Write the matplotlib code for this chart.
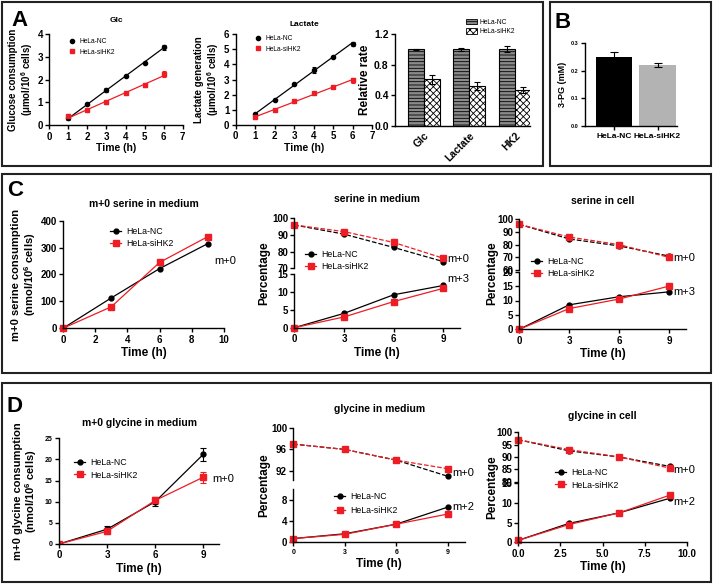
import numpy as np
import matplotlib
matplotlib.use('Agg')
import matplotlib.pyplot as plt
from matplotlib.lines import Line2D
from matplotlib.patches import Rectangle, Patch

W, H = 713, 584
plt.rcParams['font.family'] = ['Liberation Sans', 'DejaVu Sans']
plt.rcParams['font.weight'] = 'bold'
plt.rcParams['mathtext.fontset'] = 'custom'
plt.rcParams['mathtext.rm'] = 'Liberation Sans'
plt.rcParams['mathtext.bf'] = 'Liberation Sans:bold'
plt.rcParams['axes.linewidth'] = 1.0
plt.rcParams['xtick.major.width'] = 1.0
plt.rcParams['ytick.major.width'] = 1.0
plt.rcParams['xtick.major.size'] = 3
plt.rcParams['ytick.major.size'] = 3
plt.rcParams['xtick.major.pad'] = 1.5
plt.rcParams['ytick.major.pad'] = 1.5
plt.rcParams['hatch.linewidth'] = 0.6

RED = '#ee1c24'
BLK = 'black'

# ---------------- data ----------------
glc_time = [1, 2, 3, 4, 5, 6]
glc_nc = [0.30, 0.92, 1.55, 2.17, 2.73, 3.42]
glc_nc_err = [0.05, 0.04, 0.10, 0.04, 0.04, 0.10]
glc_si = [0.40, 0.65, 1.00, 1.42, 1.75, 2.25]
glc_si_err = [0.10, 0.04, 0.05, 0.06, 0.08, 0.15]
lac_nc = [0.70, 1.62, 2.70, 3.65, 4.50, 5.35]
lac_nc_err = [0.08, 0.05, 0.06, 0.20, 0.06, 0.15]
lac_si = [0.50, 1.02, 1.55, 2.08, 2.50, 2.95]
lac_si_err = [0.06, 0.04, 0.05, 0.05, 0.06, 0.15]

rate_cats = ['Glc', 'Lactate', 'HK2']
rate_nc = [1.0, 1.0, 1.0]
rate_nc_err = [0.01, 0.02, 0.04]
rate_si = [0.61, 0.52, 0.47]
rate_si_err = [0.06, 0.05, 0.04]

groups = ['HeLa-NC', 'HeLa-siHK2']
pg_vals = [0.250, 0.222]
pg_err = [0.017, 0.007]

t9 = [0, 3, 6, 9]
ser_cons_nc = [0, 113, 222, 315]
ser_cons_si = [0, 80, 245, 341]
sm_m0_nc = [96, 90.5, 82.5, 74]
sm_m0_si = [96, 92, 85.5, 76]
sm_m3_nc = [0, 4, 9.2, 11.8]
sm_m3_si = [0, 3, 7.3, 11]
sc_m0_nc = [96, 84.5, 79, 71]
sc_m0_si = [96, 86, 80, 70]
sc_m3_nc = [0, 8.5, 11.3, 13]
sc_m3_si = [0, 7.2, 10.5, 15]

gly_cons_nc = [0, 3.5, 10, 21.2]
gly_cons_nc_err = [0, 0.7, 1.0, 1.5]
gly_cons_si = [0, 3.0, 10.3, 15.8]
gly_cons_si_err = [0, 0.7, 0.9, 1.3]
gm_m0_nc = [97, 96, 94, 91]
gm_m0_si = [97, 96, 94, 92.4]
gm_m2_nc = [0.7, 1.6, 3.4, 6.6]
gm_m2_si = [0.7, 1.5, 3.4, 5.3]
gc_m0_nc = [97, 92.5, 90, 86.2]
gc_m0_si = [97, 93, 90, 85.5]
gc_m2_nc = [0.5, 4.8, 7.5, 11.2]
gc_m2_si = [0.5, 4.5, 7.5, 12]

fig = plt.figure(figsize=(W / 100, H / 100), dpi=100)


def fx(x):
    return x / W


def fy(y):
    return 1 - y / H


def add_ax(x0, x1, y0, y1):
    return fig.add_axes([x0 / W, 1 - y1 / H, (x1 - x0) / W, (y1 - y0) / H])


def style(ax, fs=6, bottom=True):
    ax.spines['top'].set_visible(False)
    ax.spines['right'].set_visible(False)
    if not bottom:
        ax.spines['bottom'].set_visible(False)
        ax.tick_params(axis='x', bottom=False, labelbottom=False)
    ax.tick_params(labelsize=fs, direction='out')
    ax.patch.set_alpha(0)


def ftext(x, y, s, **kw):
    fig.text(fx(x), fy(y), s, **kw)


def legend_at(x, y, handles, labels, fs=5.5, hl=1.6, sp=0.35):
    fig.legend(handles, labels, loc='upper left', bbox_to_anchor=(fx(x), fy(y)),
               bbox_transform=fig.transFigure, frameon=False,
               handlelength=hl, handletextpad=0.6, labelspacing=sp,
               borderpad=0, borderaxespad=0, prop={'weight': 'normal', 'size': fs})


# ---------------- borders ----------------
for (x0, y0, x1, y1) in [(2, 2, 542.7, 165.7), (550, 2, 711, 165.7),
                         (2, 174, 711, 372.7), (2, 382.7, 711, 582)]:
    fig.patches.append(Rectangle((fx(x0), fy(y1)), (x1 - x0) / W, (y1 - y0) / H,
                                 transform=fig.transFigure, fill=False, lw=1.5,
                                 edgecolor='#222222'))

# panel letters
for (x, y, s) in [(11, 26, 'A'), (555, 28, 'B'), (7, 196, 'C'), (7, 412, 'D')]:
    ftext(x, y, s, fontsize=16, fontweight='bold', va='baseline')

# ---------------- A1 / A2 ----------------
def time_panel(ax, yv, yerr, yv2, yerr2, ylim, yticks, ylabel):
    for vals, err, c, m, ms in [(yv, yerr, BLK, 'o', 3), (yv2, yerr2, RED, 's', 3.5)]:
        ax.errorbar(glc_time, vals, yerr=err, fmt=m, color=c, ms=ms, capsize=1.5,
                    elinewidth=0.8, capthick=0.8)
        p = np.polyfit(glc_time, vals, 1)
        xs = np.array([glc_time[0], glc_time[-1]])
        ax.plot(xs, np.polyval(p, xs), color=c, lw=0.9)
    ax.set_xlim(0, 7)
    ax.set_xticks(range(8))
    ax.set_ylim(*ylim)
    ax.set_yticks(yticks)
    style(ax, fs=7)
    ax.set_xlabel('Time (h)', fontsize=7.5, fontweight='bold', labelpad=1)
    ax.set_ylabel(ylabel, fontsize=7, fontweight='bold', labelpad=2, linespacing=1.1)


axA1 = add_ax(49.3, 182.7, 34, 125.3)
time_panel(axA1, glc_nc, glc_nc_err, glc_si, glc_si_err, (0, 4), range(5),
           'Glucose consumption\n(μmol/10$^{\\mathbf{6}}$ cells)')
ftext(116, 21, 'Glc', fontsize=6, fontweight='bold', ha='center', va='center')
legend_at(69, 38, [Line2D([], [], ls='', marker='o', color=BLK, ms=3),
                   Line2D([], [], ls='', marker='s', color=RED, ms=3.5)],
          groups, fs=4.8, hl=1.0, sp=0.55)

axA2 = add_ax(235.7, 372, 34, 125)
time_panel(axA2, lac_nc, lac_nc_err, lac_si, lac_si_err, (0, 6), range(7),
           'Lactate generation\n(μmol/10$^{\\mathbf{6}}$ cells)')
ftext(304, 24, 'Lactate', fontsize=6, fontweight='bold', ha='center', va='center')
legend_at(255, 35, [Line2D([], [], ls='', marker='o', color=BLK, ms=3),
                    Line2D([], [], ls='', marker='s', color=RED, ms=3.5)],
          groups, fs=4.8, hl=1.0, sp=0.55)

# ---------------- A3 bars ----------------
axA3 = add_ax(395, 530, 34, 126)
xc = np.arange(len(rate_cats))
bw = 0.35
axA3.bar(xc - bw / 2, rate_nc, bw, yerr=rate_nc_err, color='#8a8a8a', edgecolor=BLK,
         hatch='-----', lw=0.8, capsize=2, error_kw={'elinewidth': 0.8, 'capthick': 0.8})
axA3.bar(xc + bw / 2, rate_si, bw, yerr=rate_si_err, color='white', edgecolor=BLK,
         hatch='xxxxx', lw=0.8, capsize=2, error_kw={'elinewidth': 0.8, 'capthick': 0.8})
axA3.set_xlim(-0.63, 2.33)
axA3.set_ylim(0, 1.2)
axA3.set_yticks([0, 0.4, 0.8, 1.2])
axA3.set_yticklabels(['0.0', '0.4', '0.8', '1.2'])
axA3.set_xticks(xc)
axA3.set_xticklabels(rate_cats, rotation=45, ha='right', rotation_mode='anchor')
style(axA3, fs=7.5)
axA3.tick_params(axis='x', length=0, pad=3)
axA3.set_ylabel('Relative rate', fontsize=8.5, fontweight='bold', labelpad=2)
fig.legend([Patch(facecolor='#8a8a8a', edgecolor=BLK, hatch='-----', lw=0.6),
            Patch(facecolor='white', edgecolor=BLK, hatch='xxxxx', lw=0.6)], groups,
           loc='upper left', bbox_to_anchor=(fx(466), fy(19)), bbox_transform=fig.transFigure,
           frameon=False, handlelength=1.6, handleheight=0.8, handletextpad=0.5,
           labelspacing=0.35, borderpad=0, borderaxespad=0,
           prop={'weight': 'normal', 'size': 4.8})

# ---------------- B ----------------
axB = add_ax(585, 677, 43, 126)
axB.bar([0, 1], pg_vals, 0.83, yerr=pg_err, color=[BLK, '#b3b3b3'], capsize=3,
        error_kw={'elinewidth': 0.8, 'capthick': 0.8})
axB.set_xlim(-0.667, 1.448)
axB.set_ylim(0, 0.3)
axB.set_yticks([0, 0.1, 0.2, 0.3])
axB.set_yticklabels(['0.0', '0.1', '0.2', '0.3'])
axB.set_xticks([0, 1])
axB.set_xticklabels(groups)
style(axB, fs=4)
axB.tick_params(axis='x', labelsize=6, pad=2)
axB.set_ylabel('3-PG (mM)', fontsize=6.5, fontweight='bold', labelpad=3)

# ---------------- line helpers ----------------
def two_lines(ax, x, a, b, dashed=False, err=None):
    ls = '--' if dashed else '-'
    if err is None:
        ax.plot(x, a, ls=ls, marker='o', color=BLK, ms=3.5, lw=0.9)
        ax.plot(x, b, ls=ls, marker='s', color=RED, ms=4, lw=0.9)
    else:
        ax.errorbar(x, a, yerr=err[0], ls=ls, marker='o', color=BLK, ms=3.5, lw=0.9,
                    capsize=2, elinewidth=0.8, capthick=0.8)
        ax.errorbar(x, b, yerr=err[1], ls=ls, marker='s', color=RED, ms=4, lw=0.9,
                    capsize=2, elinewidth=0.8, capthick=0.8)


line_handles = [Line2D([], [], marker='o', color=BLK, ms=3.5, lw=0.9),
                Line2D([], [], marker='s', color=RED, ms=4, lw=0.9)]

TITLE_FS = 7.5
MTXT_FS = 8
LEG_FS = 6.3


def broken_panel(x0, x1, top_px, bot_px, toplim, topticks, botlim, botticks,
                 top_a, top_b, bot_a, bot_b, xticks, xticklabels, title, title_y,
                 xtick_fs=7):
    axT = add_ax(x0, x1, top_px[0], top_px[1])
    axBt = add_ax(x0, x1, bot_px[0], bot_px[1])
    two_lines(axT, t9, top_a, top_b, dashed=True)
    two_lines(axBt, t9, bot_a, bot_b)
    for a in (axT, axBt):
        a.set_xlim(0, 10)
        a.set_xticks(xticks)
    axT.set_ylim(*toplim)
    axT.set_yticks(topticks)
    axBt.set_ylim(*botlim)
    axBt.set_yticks(botticks)
    axBt.set_xticklabels(xticklabels)
    style(axT, fs=7, bottom=False)
    style(axBt, fs=7)
    axBt.tick_params(axis='x', labelsize=xtick_fs)
    axBt.set_xlabel('Time (h)', fontsize=8.5, fontweight='bold', labelpad=2)
    for a in (axT, axBt):
        for l in a.lines:
            l.set_clip_on(False)
    ftext((x0 + x1) / 2, title_y, title, fontsize=TITLE_FS, fontweight='bold',
          ha='center', va='center')
    return axT, axBt


# ---------------- C1 ----------------
axC1 = add_ax(63, 224, 220.7, 328.3)
two_lines(axC1, t9, ser_cons_nc, ser_cons_si)
axC1.set_xlim(0, 10)
axC1.set_xticks([0, 2, 4, 6, 8, 10])
axC1.set_ylim(0, 400)
axC1.set_yticks([0, 100, 200, 300, 400])
style(axC1, fs=7)
for l in axC1.lines:
    l.set_clip_on(False)
axC1.set_xlabel('Time (h)', fontsize=8.5, fontweight='bold', labelpad=2)
axC1.set_ylabel('m+0 serine consumption\n(nmol/10$^{\\mathbf{6}}$ cells)', fontsize=8,
                fontweight='bold', labelpad=2, linespacing=1.05)
ftext(143.5, 204, 'm+0 serine in medium', fontsize=TITLE_FS, fontweight='bold',
      ha='center', va='center')
legend_at(110, 227, line_handles, groups, fs=LEG_FS, hl=1.3, sp=0.3)
ftext(214, 261, 'm+0', fontsize=MTXT_FS, fontweight='normal', va='center')

# ---------------- C2 ----------------
broken_panel(294.3, 460, (218.3, 268.3), (274, 327.7), (70, 100), [70, 80, 90, 100],
             (0, 15), [0, 5, 10, 15], sm_m0_nc, sm_m0_si, sm_m3_nc, sm_m3_si,
             [0, 3, 6, 9], ['0', '3', '6', '9'], 'serine in medium', 199)
ftext(264, 273, 'Percentage', fontsize=8.5, fontweight='bold', rotation=90, ha='center',
      va='center')
legend_at(305, 250, line_handles, groups, fs=LEG_FS, hl=1.3, sp=0.3)
ftext(447, 259, 'm+0', fontsize=MTXT_FS, fontweight='normal', va='center')
ftext(447, 279, 'm+3', fontsize=MTXT_FS, fontweight='normal', va='center')

# ---------------- C3 ----------------
broken_panel(519.3, 685.6, (219.3, 270), (271.7, 329.3), (60, 100), [60, 70, 80, 90, 100],
             (0, 20), [0, 5, 10, 15, 20], sc_m0_nc, sc_m0_si, sc_m3_nc, sc_m3_si,
             [0, 3, 6, 9], ['0', '3', '6', '9'], 'serine in cell', 201)
ftext(492, 273, 'Percentage', fontsize=8.5, fontweight='bold', rotation=90, ha='center',
      va='center')
legend_at(531, 257, line_handles, groups, fs=LEG_FS, hl=1.3, sp=0.3)
ftext(673, 258, 'm+0', fontsize=MTXT_FS, fontweight='normal', va='center')
ftext(673, 292, 'm+3', fontsize=MTXT_FS, fontweight='normal', va='center')

# ---------------- D1 ----------------
axD1 = add_ax(59, 219.3, 438.3, 544)
two_lines(axD1, t9, gly_cons_nc, gly_cons_si, err=(gly_cons_nc_err, gly_cons_si_err))
axD1.set_xlim(0, 10)
axD1.set_xticks([0, 3, 6, 9])
axD1.set_ylim(0, 25)
axD1.set_yticks([0, 5, 10, 15, 20, 25])
style(axD1, fs=5)
axD1.tick_params(axis='x', labelsize=7)
axD1.set_xlabel('Time (h)', fontsize=8.5, fontweight='bold', labelpad=2)
axD1.set_ylabel('m+0 glycine consumption\n(nmol/10$^{\\mathbf{6}}$ cells)', fontsize=8,
                fontweight='bold', labelpad=4, linespacing=1.05)
ftext(139, 423, 'm+0 glycine in medium', fontsize=TITLE_FS, fontweight='bold',
      ha='center', va='center')
legend_at(74, 458, line_handles, groups, fs=LEG_FS, hl=1.3, sp=0.4)
ftext(212, 479, 'm+0', fontsize=MTXT_FS, fontweight='normal', va='center')

# ---------------- D2 ----------------
broken_panel(293.3, 464.9, (428, 480), (489, 542.3), (90.3, 100), [92, 96, 100],
             (0, 10), [0, 4, 8], gm_m0_nc, gm_m0_si, gm_m2_nc, gm_m2_si,
             [0, 3, 6, 9], ['0', '3', '6', '9'], 'glycine in medium', 409, xtick_fs=5)
ftext(264, 485, 'Percentage', fontsize=8.5, fontweight='bold', rotation=90, ha='center',
      va='center')
legend_at(334, 492, line_handles, groups, fs=LEG_FS, hl=1.3, sp=0.6)
ftext(452, 473, 'm+0', fontsize=MTXT_FS, fontweight='normal', va='center')
ftext(452, 507, 'm+2', fontsize=MTXT_FS, fontweight='normal', va='center')

# ---------------- D3 ----------------
broken_panel(518.3, 686.7, (432.3, 481.7), (483.3, 542.3), (80, 100),
             [80, 85, 90, 95, 100], (0, 15), [0, 5, 10, 15],
             gc_m0_nc, gc_m0_si, gc_m2_nc, gc_m2_si,
             [0, 2.5, 5, 7.5, 10], ['0.0', '2.5', '5.0', '7.5', '10.0'],
             'glycine in cell', 416, xtick_fs=7)
ftext(492, 487, 'Percentage', fontsize=8.5, fontweight='bold', rotation=90, ha='center',
      va='center')
legend_at(555, 468, line_handles, groups, fs=LEG_FS, hl=1.3, sp=0.4)
ftext(673, 470, 'm+0', fontsize=MTXT_FS, fontweight='normal', va='center')
ftext(673, 502, 'm+2', fontsize=MTXT_FS, fontweight='normal', va='center')

fig.savefig('out.png', dpi=100)
